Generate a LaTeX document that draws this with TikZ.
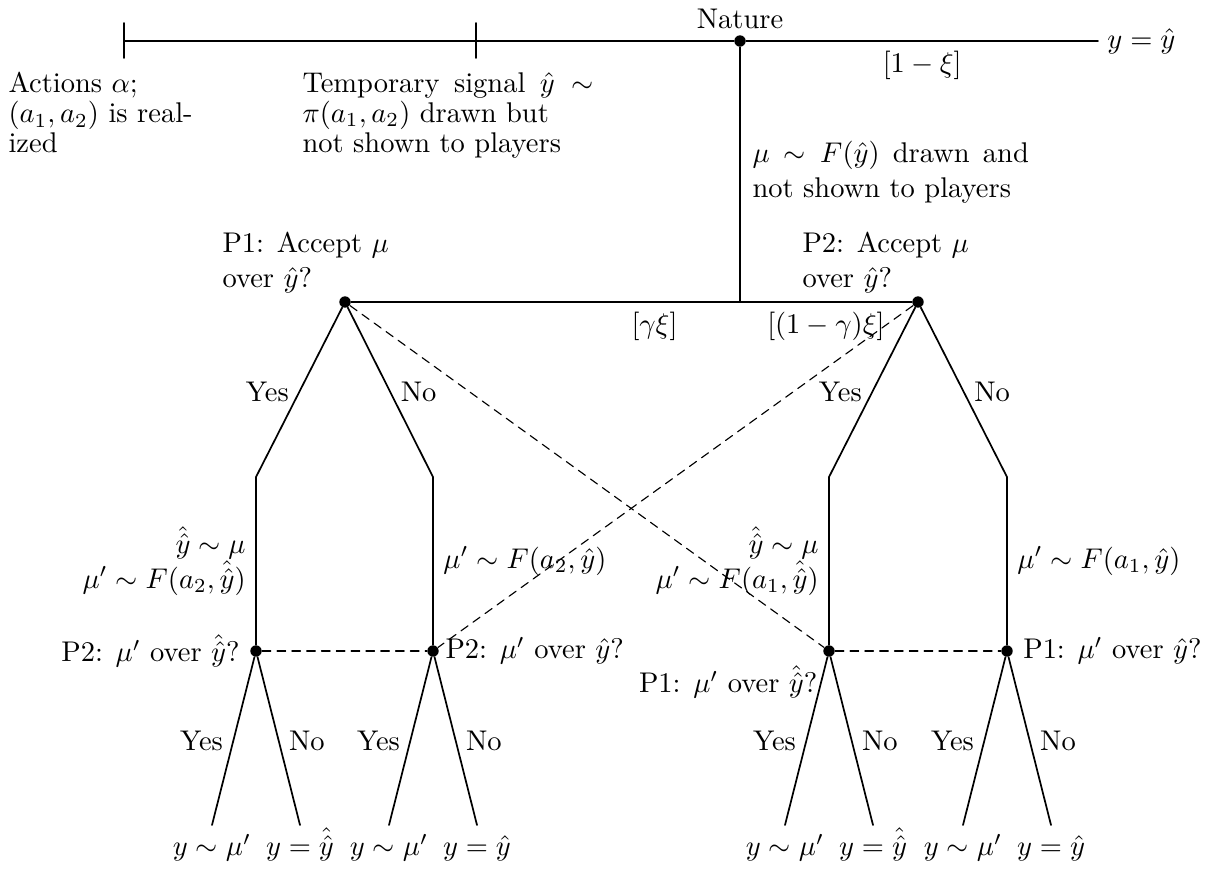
\documentclass[tikz,border=0pt]{standalone}
\usetikzlibrary{positioning}

\tikzset{
  dot/.style={circle, fill, inner sep=0pt, minimum size=4pt},
  info/.style={align=left, inner sep=0pt, anchor=north west},
  leaf/.style={anchor=north, inner sep=3pt, text height=7.5pt, text depth=2pt},
  tree/.style={semithick},
  infoset/.style={dash pattern=on 3pt off 2.2pt},
}

\begin{document}
\begin{tikzpicture}[x=0.351pt, y=-0.351pt, line cap=round, line join=round]
	% Frame in pixel units of the page, y pointing down
	\useasboundingbox (0,0) rectangle (1209,870);
	
	% Time line: actions, temporary signal, Nature
	\node[dot] (nat) at (740,41) {};
	\coordinate (t0) at (124,41);
	\coordinate (tend) at (1098,41);
	\draw[tree] (t0) -- (nat) -- (tend)
		node[midway, below] (xi) {$[1-\xi]$}
		node[right=2pt, inner sep=1pt] (yend) {$y=\hat y$};
	\foreach \x in {124,476} {
		\draw[tree] (\x,23) -- (\x,58);
	}
	\node[above=1pt of nat, inner sep=1pt] (nature) {Nature};
	
	\node[info] (act) at (8,72) {Actions $\alpha$;\\[-1.5pt] $(a_1,a_2)$ is real-\\[-1.5pt] ized};
	\node[info] (sig) at (302,72) {\makebox[102pt][s]{Temporary signal $\hat y\sim$}\\[-1.5pt] $\pi(a_1,a_2)$ drawn but\\[-1.5pt] not shown to players};
	
	% Nature draws mu and picks the player
	\coordinate (split) at (740,302);
	\draw[tree] (nat) -- (split);
	\node[info] (drawmu) at (752,141) {\makebox[97pt][s]{$\mu\sim F(\hat y)$ drawn and}\\ not shown to players};
	
	\node[dot] (pa) at (345,302) {};
	\node[dot] (pb) at (918,302) {};
	\draw[tree] (pa) -- (split) node[pos=.78, below] (gx) {$[\gamma\xi]$}
		-- (pb) node[midway, below] (ogx) {$[(1-\gamma)\xi]$};
	
	\node[info] (acc1) at (222,232) {P1: Accept $\mu$\\ over $\hat y$?};
	\node[info] (acc2) at (802,232) {P2: Accept $\mu$\\ over $\hat y$?};
	
	% First answers
	\node[dot] (qa) at (256,651) {};
	\node[dot] (qb) at (433,651) {};
	\node[dot] (qc) at (829,651) {};
	\node[dot] (qd) at (1007,651) {};
	\coordinate (ka) at (256,477);
	\coordinate (kb) at (433,477);
	\coordinate (kc) at (829,477);
	\coordinate (kd) at (1007,477);
	
	\draw[tree] (pa) -- (ka) node[midway, left] (ya) {Yes}
		-- (qa) node[midway, left, align=right] (ma) {$\hat{\hat y}\sim\mu$\\ $\mu'\sim F(a_2,\hat{\hat y})$};
	\draw[tree] (pa) -- (kb) node[midway, right] (na) {No}
		-- (qb) node[midway, right] (mb) {$\mu'\sim F(a_2,\hat y)$};
	\draw[tree] (pb) -- (kc) node[midway, left] (yb) {Yes}
		-- (qc) node[midway, left, align=right] (mc) {$\hat{\hat y}\sim\mu$\\ $\mu'\sim F(a_1,\hat{\hat y})$};
	\draw[tree] (pb) -- (kd) node[midway, right] (nb) {No}
		-- (qd) node[midway, right] (md) {$\mu'\sim F(a_1,\hat y)$};
	
	% Information sets
	\draw[infoset] (qa) -- (qb);
	\draw[infoset] (qc) -- (qd);
	\draw[infoset] (pa) -- (qc);
	\draw[infoset] (pb) -- (qb);
	
	\node[left=0pt of qa] (da) {P2: $\mu'$ over $\hat{\hat y}$?};
	\node[right=0pt of qb, inner sep=2pt] (db) {P2: $\mu'$ over $\hat y$?};
	\node[below left=0pt and -1pt of qc] (dc) {P1: $\mu'$ over $\hat{\hat y}$?};
	\node[right=0pt of qd] (dd) {P1: $\mu'$ over $\hat y$?};
	
	% Second answers and outcomes
	\foreach \q/\n/\h in {qa/1/{\hat{\hat y}}, qb/2/{\hat y}, qc/3/{\hat{\hat y}}, qd/4/{\hat y}} {
		\node[leaf] (ys\n) at ([shift={(-44,174)}]\q) {$y\sim\mu'$};
		\node[leaf] (yh\n) at ([shift={(44,174)}]\q) {$y=\h$};
		\draw[tree] (\q) -- (ys\n.north) node[midway, left] (yes\n) {Yes};
		\draw[tree] (\q) -- (yh\n.north) node[midway, right] (no\n) {No};
	}
\end{tikzpicture}
\end{document}
